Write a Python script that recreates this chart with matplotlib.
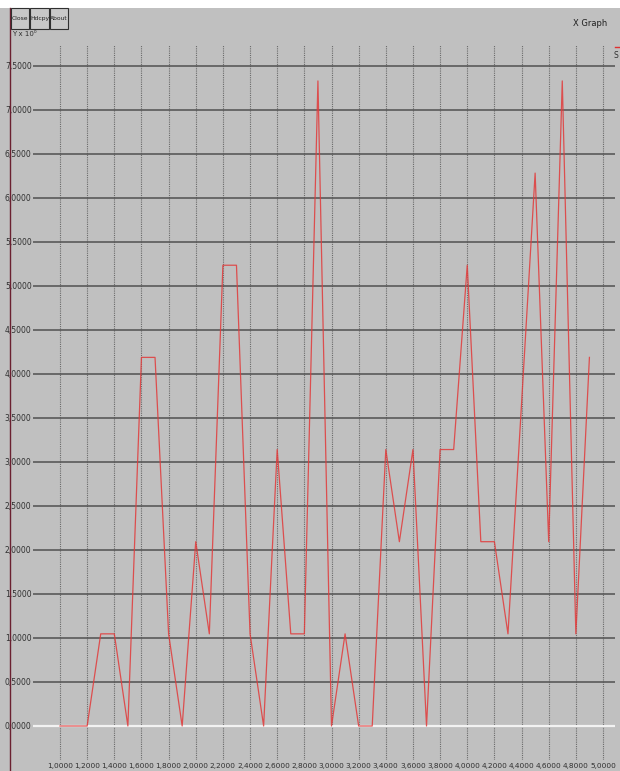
import matplotlib
matplotlib.use("Agg")
import matplotlib.pyplot as plt
from matplotlib.patches import Rectangle
from matplotlib.lines import Line2D

# ---- data ----
x_vals = [1.0, 1.2, 1.3, 1.4, 1.5, 1.6, 1.7, 1.8, 1.9, 2.0, 2.1, 2.2, 2.3, 2.4, 2.5,
          2.6, 2.7, 2.8, 2.9, 3.0, 3.1, 3.2, 3.3, 3.4, 3.5, 3.6, 3.7, 3.8, 3.9, 4.0,
          4.1, 4.2, 4.3, 4.5, 4.6, 4.7, 4.8, 4.9]
y_vals = [0.0, 0.0, 1.0472, 1.0472, 0.0, 4.1888, 4.1888, 1.0472, 0.0, 2.0944, 1.0472,
          5.2360, 5.2360, 1.0472, 0.0, 3.1416, 1.0472, 1.0472, 7.3304, 0.0, 1.0472,
          0.0, 0.0, 3.1416, 2.0944, 3.1416, 0.0, 3.1416, 3.1416, 5.2360, 2.0944,
          2.0944, 1.0472, 6.2832, 2.0944, 7.3304, 1.0472, 4.1888]
y_ticks = [0.0, 0.5, 1.0, 1.5, 2.0, 2.5, 3.0, 3.5, 4.0, 4.5, 5.0, 5.5, 6.0, 6.5, 7.0, 7.5]
x_ticks = [1.0, 1.2, 1.4, 1.6, 1.8, 2.0, 2.2, 2.4, 2.6, 2.8, 3.0, 3.2, 3.4, 3.6, 3.8,
           4.0, 4.2, 4.4, 4.6, 4.8, 5.0]
buttons = ["Close", "Hdcpy", "About"]
title_text = "X Graph"
y_scale_text = "Y x 10\u2070"
legend_text = "S"

W, H = 620, 771
BG = "#c0c0c0"
fig = plt.figure(figsize=(W / 100, H / 100), dpi=100, facecolor=BG)

FONT = ["Liberation Sans Narrow", "DejaVu Sans"]

def fx(px):
    return px / W

def fy(py):
    return 1 - py / H

# top white strip and left border
fig.patches.append(Rectangle((0, fy(8)), 1, 8 / H, transform=fig.transFigure,
                             facecolor="white", edgecolor="none", zorder=0))
fig.add_artist(Line2D([fx(10), fx(10)], [0, fy(8)], transform=fig.transFigure,
                      color="#6a2030", lw=1.0))

# buttons
bx = [11, 30, 50]
bw = [18, 19, 18]
for name, x0, w in zip(buttons, bx, bw):
    fig.patches.append(Rectangle((fx(x0), fy(29)), w / W, 21 / H, transform=fig.transFigure,
                                 facecolor="#c8c8c8", edgecolor="#303030", lw=0.8, zorder=3))
    fig.text(fx(x0 + w / 2), fy(18.5), name, ha="center", va="center", fontsize=4.3,
             family=FONT, color="#202020", zorder=4)

fig.text(fx(12), fy(34), y_scale_text, ha="left", va="center", fontsize=5,
         family=FONT, color="#303030")
fig.text(fx(590), fy(24), title_text, ha="center", va="center", fontsize=6,
         family=FONT, color="#202020")

# partial legend at right edge
fig.add_artist(Line2D([fx(615), fx(621)], [fy(47), fy(47)], transform=fig.transFigure,
                      color="#e03030", lw=1.0))
fig.text(fx(614), fy(56), legend_text, ha="left", va="center", fontsize=5.5, family=FONT,
         color="#303030")

# plot axes: px x 33..615, y 45..760
ax_l, ax_r, ax_t, ax_b = 33, 615, 45, 760
ax = fig.add_axes([fx(ax_l), fy(ax_b), (ax_r - ax_l) / W, (ax_b - ax_t) / H])
ax.set_facecolor("none")
for s in ax.spines.values():
    s.set_visible(False)
ax.set_xticks([])
ax.set_yticks([])

# data->pixel calibration: x 1.0 -> 60px, 5.0 -> 603px ; y 0 -> 726px, 7.5 -> 66px
xpu = (603 - 60) / 4.0
ypu = (726 - 66) / 7.5
ax.set_xlim(1.0 - (60 - ax_l) / xpu, 1.0 + (ax_r - 60) / xpu)
ax.set_ylim(-(ax_b - 726) / ypu, (726 - ax_t) / ypu)

for xv in x_ticks:
    ax.axvline(xv, color="#6a6a6a", lw=0.8, ls=(0, (1, 1)), zorder=1)
for yv in y_ticks:
    if yv == 0:
        ax.axhline(yv, color="#f2f2f2", lw=1.6, zorder=2)
    else:
        ax.axhline(yv, color="#505050", lw=1.1, zorder=2)

ax.plot(x_vals, y_vals, color="#e23a3a", lw=0.9, alpha=0.85, zorder=5)

# tick labels
for yv in y_ticks:
    lab = f"{yv:.4f}".replace(".", ",")
    ax.annotate(lab, xy=(ax.get_xlim()[0], yv), xytext=(-1, 0), textcoords="offset points",
                ha="right", va="center", fontsize=5.5, family=FONT, color="#303030",
                annotation_clip=False)
for xv in x_ticks:
    lab = f"{xv:.4f}".replace(".", ",")
    fig.text(fx(60 + (xv - 1.0) * xpu), fy(766), lab, ha="center", va="center",
             fontsize=5.3, family=FONT, color="#303030")

fig.savefig("out.png", dpi=100, facecolor=BG)
